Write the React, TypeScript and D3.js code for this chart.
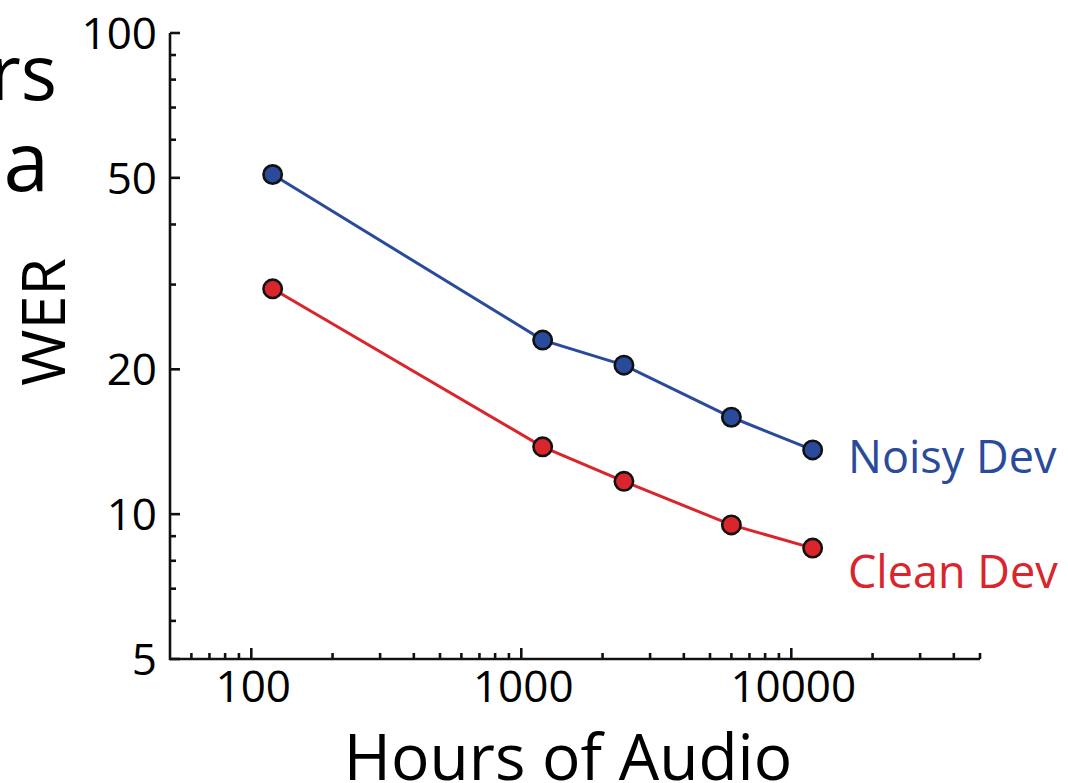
import React from "react";
import * as d3 from "d3";

const hours = [120, 1200, 2400, 6000, 12000];
const noisyWER = [50.8, 23.0, 20.4, 15.9, 13.6];
const cleanWER = [29.4, 13.8, 11.7, 9.5, 8.5];

const yMajorTicks = [100, 50, 20, 10, 5];
const yMinorTicks = [90, 80, 70, 60, 40, 30, 9, 8, 7, 6];
const xMajorTicks = [100, 1000, 10000];
const xMinorTicks = [
  60, 70, 80, 90, 200, 300, 400, 500, 600, 700, 800, 900, 2000, 3000, 4000,
  5000, 6000, 7000, 8000, 9000, 20000, 30000, 40000, 50000,
];

const series = [
  { name: "Noisy Dev", values: noisyWER, color: "#2a4b9b", dy: 23 },
  { name: "Clean Dev", values: cleanWER, color: "#d9252b", dy: 40 },
];

const W = 1068;
const H = 783;
const FONT = "'Open Sans', 'Noto Sans', sans-serif";

export default function App() {
  const x = d3.scaleLog().domain([50, 50000]).range([170, 980]);
  const y = d3.scaleLog().domain([5, 100]).range([659, 33]);
  const line = d3
    .line<number>()
    .x((_, i) => x(hours[i]))
    .y((d) => y(d));

  return (
    <svg
      width={W}
      height={H}
      style={{ position: "absolute", left: 0, top: 0, background: "#fff" }}
      fontFamily={FONT}
    >
      <rect width={W} height={H} fill="#fff" />
      {/* cropped slide title fragments */}
      <text x={57} y={100} fontSize={76} textAnchor="end" fill="#000">
        rs
      </text>
      <text x={49} y={191} fontSize={82} textAnchor="end" fill="#000">
        a
      </text>

      {/* axes */}
      <g stroke="#111" strokeWidth={2.6} fill="none">
        <path d={`M${x(50)},${y(100)}V${y(5)}H${x(50000)}`} />
        {yMajorTicks.map((t) => (
          <line key={"ym" + t} x1={x(50)} x2={x(50) + 10} y1={y(t)} y2={y(t)} />
        ))}
        {yMinorTicks.map((t) => (
          <line key={"yn" + t} x1={x(50)} x2={x(50) + 6} y1={y(t)} y2={y(t)} />
        ))}
        {xMajorTicks.map((t) => (
          <line key={"xm" + t} x1={x(t)} x2={x(t)} y1={y(5)} y2={y(5) - 11} />
        ))}
        {xMinorTicks.map((t) => (
          <line key={"xn" + t} x1={x(t)} x2={x(t)} y1={y(5)} y2={y(5) - 6} />
        ))}
      </g>

      {/* tick labels */}
      {yMajorTicks.map((t) => (
        <text
          key={"yl" + t}
          x={157}
          y={y(t)}
          dy="0.36em"
          fontSize={44}
          textAnchor="end"
          fill="#000"
        >
          {t}
        </text>
      ))}
      {xMajorTicks.map((t) => (
        <text
          key={"xl" + t}
          x={x(t) + 2}
          y={702}
          fontSize={44}
          textAnchor="middle"
          fill="#000"
        >
          {t}
        </text>
      ))}

      {/* axis titles */}
      <text x={568} y={780} fontSize={64} textAnchor="middle" fill="#000">
        Hours of Audio
      </text>
      <text
        transform={`translate(65,322) rotate(-90)`}
        fontSize={61}
        textAnchor="middle"
        fill="#000"
      >
        WER
      </text>

      {/* series */}
      {series.map((s) => (
        <g key={s.name}>
          <path d={line(s.values) || ""} fill="none" stroke={s.color} strokeWidth={3} />
          {s.values.map((v, i) => (
            <circle
              key={i}
              cx={x(hours[i])}
              cy={y(v)}
              r={9.2}
              fill={s.color}
              stroke="#111"
              strokeWidth={2.6}
            />
          ))}
          <text
            x={848}
            y={y(s.values[s.values.length - 1]) + s.dy}
            fontSize={45}
            fill={s.color}
          >
            {s.name}
          </text>
        </g>
      ))}
    </svg>
  );
}
